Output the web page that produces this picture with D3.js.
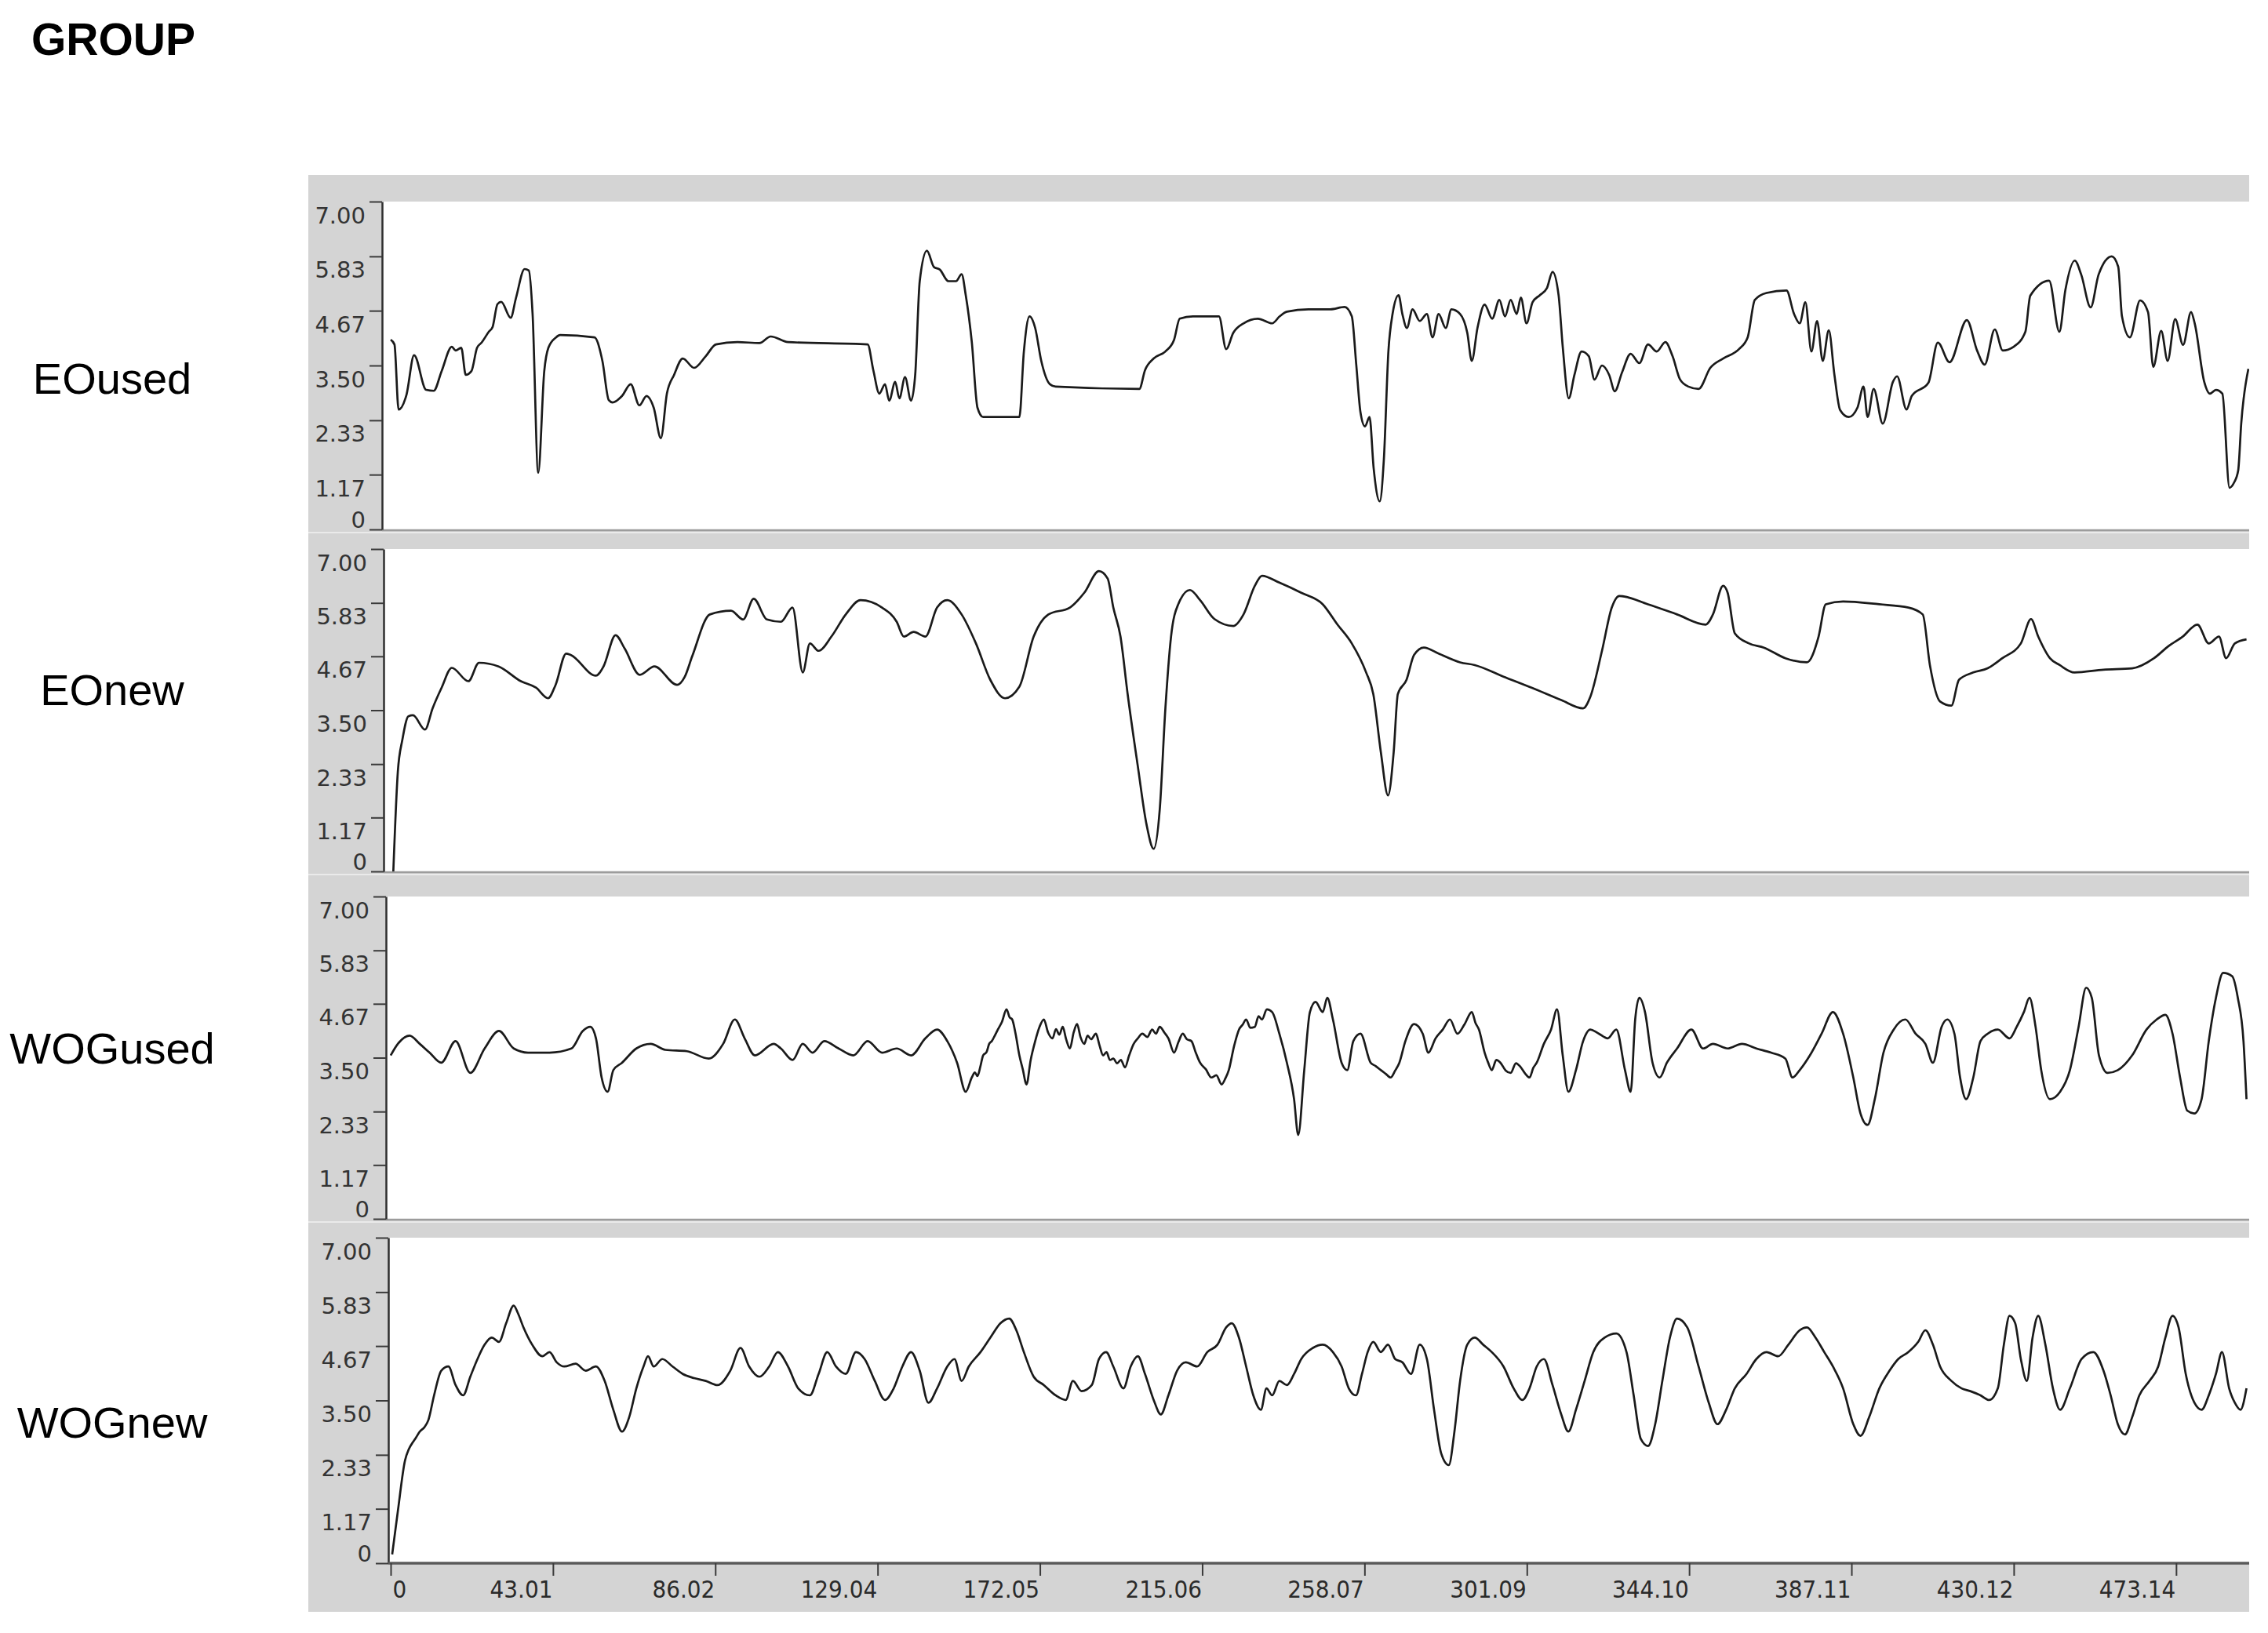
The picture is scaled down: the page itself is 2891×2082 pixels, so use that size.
<!DOCTYPE html>
<html><head><meta charset="utf-8">
<script src="https://cdn.jsdelivr.net/npm/d3@7"></script>
<style>html,body{margin:0;padding:0;background:#fff;} svg{display:block}</style>
</head><body>
<svg id="chart" width="2891" height="2082"></svg>
<script>
const titleText = "GROUP";
const panelNames = ["EOused", "EOnew", "WOGused", "WOGnew"];
const yTickValues = [0, 1.17, 2.33, 3.50, 4.67, 5.83, 7.00];
const yTickLabels = ["0", "1.17", "2.33", "3.50", "4.67", "5.83", "7.00"];
const xTickValues = [0, 43.01, 86.02, 129.04, 172.05, 215.06, 258.07, 301.09, 344.10, 387.11, 430.12, 473.14];
const xTickLabels = ["0", "43.01", "86.02", "129.04", "172.05", "215.06", "258.07", "301.09", "344.10", "387.11", "430.12", "473.14"];
const xDomain = [0, 492.3];
const yDomain = [0, 7];

// series: [time, value]
const EOused = [[0,4.05],[1,3.95],[2.1,2.56],[4.2,2.88],[6.2,3.72],[9.4,2.98],[11.4,2.96],[13.5,3.38],[16.2,3.90],[17.2,3.82],[18.7,3.88],[19.9,3.30],[21.4,3.38],[22.9,3.88],[24.1,3.99],[26.0,4.22],[27.0,4.32],[28.3,4.81],[29.3,4.86],[31.8,4.52],[33.2,4.94],[35.5,5.56],[36.6,5.53],[37.6,4.61],[39.1,1.21],[40.7,3.38],[41.8,3.88],[43.8,4.10],[44.9,4.15],[54.0,4.10],[56.1,3.60],[57.8,2.76],[58.8,2.71],[61.3,2.85],[63.6,3.1],[65.9,2.65],[67.8,2.85],[69.7,2.6],[71.6,1.95],[73.2,2.9],[75.1,3.3],[77.4,3.65],[80.4,3.45],[83.5,3.7],[86.2,3.95],[91.9,4.0],[97.7,3.98],[100.7,4.12],[105.3,4.0],[126.4,3.95],[127.9,3.4],[129.5,2.9],[131,3.1],[132.1,2.75],[133.7,3.15],[134.8,2.8],[136.3,3.25],[137.9,2.75],[139,3.3],[140.2,5.3],[142.1,5.95],[144,5.6],[145.5,5.55],[147.8,5.3],[149.8,5.3],[151.3,5.45],[152.4,5.0],[154,4.0],[155.5,2.6],[157,2.4],[166.6,2.4],[167.8,3.8],[169.3,4.55],[170.8,4.3],[172.4,3.6],[174.7,3.1],[176.2,3.05],[198.4,3.0],[199.9,3.4],[202.2,3.65],[205.3,3.8],[207.6,4.05],[209.1,4.5],[212.6,4.55],[219.5,4.55],[221.4,3.85],[223.3,4.2],[226,4.4],[229.8,4.5],[233.6,4.4],[235.6,4.55],[237.5,4.65],[243.2,4.7],[249,4.7],[252.8,4.75],[254.7,4.55],[255.9,3.5],[257,2.5],[258.2,2.2],[259.4,2.4],[260.5,1.3],[262.1,0.6],[263.2,1.5],[264.4,3.8],[265.5,4.6],[267.1,5.0],[268.1,4.6],[269.3,4.3],[270.8,4.7],[272.7,4.45],[274.6,4.6],[276.1,4.1],[277.7,4.6],[279.6,4.3],[281.1,4.7],[283.4,4.6],[285.3,4.2],[286.5,3.6],[288,4.3],[289.9,4.8],[291.9,4.5],[293.8,4.9],[295.3,4.55],[296.8,4.9],[298.4,4.6],[299.5,4.95],[301,4.4],[302.6,4.85],[304.5,5.0],[306.4,5.15],[307.9,5.5],[309.5,5.0],[310.6,3.9],[312.2,2.8],[313.7,3.3],[315.6,3.8],[317.5,3.7],[319,3.2],[321,3.5],[322.9,3.3],[324.4,2.95],[326.3,3.35],[328.6,3.75],[330.9,3.55],[333.2,3.95],[335.5,3.8],[337.8,4.0],[339.7,3.7],[341.7,3.2],[343.9,3.05],[346.6,3.0],[349.7,3.45],[353.1,3.65],[357.3,3.85],[359.6,4.1],[361.5,4.9],[364.6,5.05],[369.9,5.1],[371.9,4.6],[373.4,4.4],[374.9,4.85],[376.5,3.8],[378,4.45],[379.5,3.6],[381.1,4.25],[382.6,3.3],[384.1,2.55],[386.4,2.4],[388.7,2.6],[390.3,3.05],[391.4,2.4],[393,3.0],[395.4,2.26],[398.1,3.15],[399.2,3.27],[401.7,2.56],[403.1,2.85],[407.5,3.13],[410.0,3.99],[413.1,3.57],[417.7,4.47],[420.4,3.82],[422.4,3.52],[425.1,4.27],[427.2,3.82],[430.1,3.9],[433.2,4.22],[434.5,4.99],[439.5,5.31],[442.2,4.22],[443.8,5.11],[446.3,5.74],[448.0,5.44],[450.5,4.74],[452.6,5.44],[456.1,5.83],[457.8,5.61],[458.8,4.55],[460.9,4.10],[463.6,4.89],[465.7,4.64],[467.1,3.47],[469.2,4.24],[470.9,3.60],[472.9,4.49],[475.0,3.94],[477.1,4.64],[478.1,4.39],[480.6,3.15],[482.1,2.90],[483.7,2.98],[485.4,2.90],[487.3,0.89],[488.5,1.0],[489.6,1.26],[490.4,2.26],[492.3,3.43]];

const EOnew = [[0.7,0.0],[1.9,2.17],[3.1,2.86],[4.7,3.37],[5.9,3.39],[9.1,3.08],[11.1,3.54],[13.5,3.99],[16.2,4.42],[20.6,4.13],[23.4,4.53],[28.6,4.45],[34.5,4.13],[38.5,3.99],[41.7,3.76],[43.7,4.05],[46.5,4.73],[47.7,4.70],[54.4,4.25],[56.4,4.45],[59.6,5.13],[62.0,4.84],[66.0,4.27],[69.9,4.45],[75.9,4.05],[77.9,4.22],[79.9,4.67],[84.6,5.58],[90.2,5.66],[93.4,5.47],[96.2,5.92],[99.7,5.47],[103.4,5.42],[106.5,5.73],[109.2,4.32],[111.1,4.95],[113.4,4.79],[116.8,5.1],[120.6,5.58],[124.5,5.89],[130.2,5.73],[134.1,5.42],[136,5.1],[138.6,5.2],[141.7,5.1],[144.8,5.73],[147.5,5.89],[151.3,5.58],[155.1,4.95],[158.9,4.16],[162.8,3.76],[166.6,4.01],[170.4,5.1],[174.3,5.58],[180,5.73],[183.8,6.05],[187.7,6.52],[190,6.36],[191.5,5.73],[193.4,5.1],[195.3,3.85],[198,2.28],[200.3,1.02],[202.2,0.49],[203.8,1.34],[205.3,3.54],[206.8,5.1],[208.7,5.8],[211.8,6.11],[214.5,5.89],[218.3,5.48],[223.3,5.33],[226,5.58],[229,6.2],[230.9,6.42],[235.5,6.27],[241.3,6.05],[247,5.8],[250.9,5.36],[254.7,4.95],[258.5,4.32],[260.4,3.85],[262.4,2.59],[264.3,1.65],[265.8,2.59],[266.9,3.85],[269.2,4.16],[271.2,4.7],[273.8,4.86],[277.7,4.73],[283.4,4.54],[287.3,4.48],[294.9,4.23],[302.6,3.98],[310.2,3.72],[316,3.54],[317.9,3.79],[321,4.79],[323.6,5.73],[325.6,5.98],[333.2,5.8],[340.9,5.58],[348.5,5.36],[350.4,5.58],[353.1,6.2],[354.3,6.05],[356.2,5.17],[360,4.95],[363.9,4.86],[369.6,4.63],[375.3,4.54],[378.4,5.1],[380.3,5.8],[384.9,5.86],[394.5,5.8],[402.2,5.73],[406,5.58],[407.9,4.48],[410.6,3.69],[413.6,3.6],[415.6,4.16],[419.4,4.32],[423.2,4.41],[427.1,4.63],[432,4.95],[434.7,5.48],[436.6,5.1],[439.7,4.63],[442.3,4.48],[446.2,4.32],[453.9,4.38],[461.5,4.41],[467.3,4.63],[471.1,4.89],[474.9,5.1],[478.8,5.36],[481.8,4.95],[484.5,5.1],[486.4,4.63],[488.7,4.95],[491.8,5.04]];

const WOGused = [[0,3.55],[1.9,3.80],[5.0,3.98],[7.7,3.80],[10.3,3.61],[13.4,3.39],[17.2,3.86],[21.1,3.17],[24.9,3.70],[28.7,4.08],[32.6,3.70],[36.4,3.61],[42.1,3.61],[47.9,3.70],[50.9,4.08],[52.9,4.17],[54.4,3.92],[55.9,3.07],[57.5,2.76],[59.0,3.23],[61.3,3.39],[65.1,3.70],[68.9,3.80],[72.8,3.67],[78.5,3.64],[84.3,3.48],[88.1,3.80],[91.2,4.33],[93.8,3.92],[96.5,3.55],[101.5,3.80],[103.4,3.70],[106.5,3.45],[109.2,3.80],[111.8,3.61],[114.9,3.86],[118.7,3.70],[122.6,3.55],[126.4,3.86],[130.2,3.61],[134.1,3.70],[137.9,3.55],[141.7,3.92],[144.8,4.11],[147.5,3.86],[150.1,3.39],[152.4,2.76],[154.0,3.07],[154.8,3.18],[155.5,3.10],[156.3,3.32],[157.0,3.55],[157.9,3.62],[158.6,3.80],[159.3,3.86],[160.1,3.98],[160.9,4.11],[162.0,4.28],[163.2,4.55],[164.0,4.38],[164.7,4.33],[165.6,4.02],[166.6,3.55],[167.5,3.25],[168.5,2.92],[169.6,3.45],[170.8,3.86],[172.0,4.18],[173.1,4.33],[174.2,4.05],[175.4,3.92],[176.3,4.12],[177.2,4.0],[178.1,4.17],[179.0,3.90],[180.0,3.70],[181.0,4.05],[181.9,4.23],[182.8,3.95],[183.8,3.80],[184.7,3.98],[185.6,3.90],[186.9,4.02],[187.8,3.78],[188.8,3.55],[189.7,3.62],[190.6,3.45],[191.5,3.48],[192.5,3.38],[193.5,3.45],[194.6,3.29],[195.7,3.55],[196.9,3.80],[198.0,3.92],[199.2,4.02],[200.5,3.95],[201.8,4.11],[202.8,4.02],[203.8,4.17],[205.0,4.05],[206.1,3.92],[207.6,3.61],[208.8,3.85],[209.9,4.02],[211.0,3.90],[212.2,3.86],[213.3,3.62],[214.5,3.39],[216.0,3.25],[217.5,3.07],[218.8,3.12],[220.2,2.92],[221.2,3.05],[222.1,3.23],[223.5,3.75],[224.8,4.11],[225.8,4.22],[226.7,4.33],[227.8,4.15],[229.0,4.17],[230.0,4.40],[230.9,4.33],[232.2,4.55],[233.6,4.49],[235.5,4.02],[237.5,3.39],[239.4,2.60],[240.5,1.82],[242.1,3.23],[243.6,4.49],[245.1,4.71],[247.0,4.49],[248.2,4.80],[249.7,4.33],[252.0,3.39],[253.5,3.23],[255.1,3.86],[257.0,4.02],[259.7,3.39],[261.0,3.32],[262.4,3.23],[263.7,3.15],[265.0,3.07],[266.2,3.22],[267.3,3.39],[268.9,3.86],[271.2,4.23],[273.5,4.02],[275.0,3.61],[276.9,3.92],[278.8,4.11],[280.7,4.33],[282.7,4.02],[284.6,4.23],[286.5,4.49],[287.5,4.25],[288.4,4.11],[289.9,3.61],[290.8,3.40],[291.8,3.23],[293.0,3.45],[294.1,3.39],[295.5,3.22],[296.8,3.17],[298.2,3.38],[299.5,3.29],[300.7,3.15],[301.8,3.07],[302.8,3.28],[303.7,3.39],[305.6,3.80],[307.5,4.11],[309.1,4.55],[310.6,3.55],[312.1,2.76],[314.1,3.23],[316.0,3.86],[317.9,4.11],[320.2,4.02],[322.5,3.92],[324.8,4.11],[327.1,3.23],[328.6,2.76],[329.8,4.33],[330.9,4.80],[332.4,4.49],[334.4,3.39],[336.3,3.07],[338.2,3.39],[340.9,3.70],[344.7,4.11],[347.8,3.70],[350.4,3.80],[354.3,3.70],[358.1,3.80],[361.9,3.70],[365.8,3.61],[369.6,3.48],[371.5,3.07],[373.4,3.23],[376.1,3.55],[379.2,4.02],[382.2,4.49],[384.9,4.02],[387.6,3.07],[389.5,2.29],[391.4,2.04],[393.3,2.60],[395.6,3.61],[398.3,4.11],[401.4,4.33],[404.1,4.02],[406.7,3.80],[408.7,3.39],[411.0,4.17],[412.5,4.33],[414.4,4.02],[415.9,3.07],[417.5,2.60],[419.4,3.07],[421.3,3.86],[423.2,4.02],[425.9,4.11],[429.0,3.92],[430.9,4.17],[432.8,4.49],[434.3,4.80],[435.9,4.17],[437.4,3.23],[439.7,2.60],[442.4,2.76],[445.0,3.23],[447.3,4.17],[449.3,5.02],[450.8,4.80],[452.7,3.55],[455.0,3.17],[457.7,3.23],[461.5,3.55],[465.3,4.11],[468.0,4.33],[470.3,4.43],[472.2,4.02],[474.2,3.07],[476.1,2.35],[478.0,2.29],[479.9,2.60],[481.8,3.86],[483.7,4.80],[485.6,5.34],[488.0,5.27],[489.5,4.80],[491.0,3.86],[491.8,2.60]];

const WOGnew = [[0.4,0.19],[1.9,1.12],[3.8,2.21],[4.8,2.45],[5.7,2.58],[6.7,2.70],[7.7,2.83],[8.9,2.92],[10.0,3.08],[11.5,3.61],[13.4,4.14],[15.3,4.23],[17.2,3.83],[19.2,3.61],[21.1,4.01],[23.0,4.39],[24.9,4.70],[26.8,4.85],[28.7,4.76],[30.6,5.16],[32.6,5.54],[33.7,5.38],[35.2,5.07],[37.5,4.70],[40.2,4.45],[42.1,4.54],[44.0,4.32],[46.0,4.23],[49.0,4.29],[51.7,4.14],[54.4,4.23],[56.7,3.92],[59.0,3.30],[61.3,2.83],[63.2,3.14],[65.1,3.76],[67.0,4.23],[68.2,4.45],[69.7,4.23],[72.0,4.39],[74.7,4.23],[77.4,4.07],[80.4,3.98],[83.5,3.92],[86.6,3.83],[90.0,4.14],[92.7,4.63],[95.0,4.23],[97.7,4.01],[100.3,4.23],[102.6,4.54],[105.3,4.23],[108.0,3.76],[111.1,3.61],[113.4,4.07],[115.7,4.54],[118.0,4.23],[120.6,4.07],[123.3,4.54],[125.6,4.39],[128.3,3.92],[131.0,3.51],[133.3,3.76],[135.6,4.23],[137.9,4.54],[140.2,4.14],[142.5,3.45],[144.8,3.76],[147.5,4.23],[149.4,4.39],[151.3,3.92],[153.2,4.23],[156.3,4.54],[158.9,4.85],[161.6,5.16],[163.9,5.26],[165.8,5.01],[167.8,4.54],[170.4,4.01],[173.1,3.83],[176.2,3.61],[178.9,3.51],[180.8,3.92],[183.1,3.70],[185.8,3.83],[187.7,4.39],[189.6,4.54],[191.5,4.23],[194.2,3.76],[196.1,4.23],[198.0,4.45],[199.9,4.07],[202.2,3.51],[204.1,3.20],[206.1,3.61],[208.4,4.14],[210.7,4.32],[213.7,4.23],[216.4,4.54],[219.1,4.70],[221.4,5.07],[222.9,5.16],[224.8,4.85],[226.7,4.23],[228.6,3.61],[230.6,3.30],[232.1,3.76],[233.6,3.61],[235.5,3.92],[237.5,3.83],[239.4,4.07],[241.3,4.39],[244.4,4.63],[247.0,4.70],[249.7,4.54],[252.0,4.23],[253.9,3.76],[255.8,3.61],[257.4,4.07],[258.9,4.54],[260.4,4.76],[262.4,4.54],[264.3,4.70],[266.2,4.39],[268.1,4.32],[270.4,4.07],[272.7,4.70],[274.6,4.39],[276.5,3.30],[278.4,2.36],[280.4,2.11],[281.9,2.83],[283.4,3.92],[285.3,4.70],[287.3,4.85],[289.5,4.70],[291.8,4.54],[294.9,4.23],[297.6,3.76],[299.9,3.51],[301.8,3.76],[303.7,4.23],[305.6,4.39],[307.9,3.83],[310.2,3.20],[312.1,2.83],[314.1,3.30],[316.4,3.92],[318.7,4.54],[321.7,4.85],[324.8,4.94],[327.5,4.54],[329.4,3.61],[331.3,2.67],[333.2,2.52],[335.1,2.99],[337.0,3.92],[339.0,4.85],[340.9,5.26],[343.6,5.07],[346.6,4.23],[349.3,3.45],[351.6,2.99],[353.9,3.30],[356.2,3.76],[359.3,4.07],[361.9,4.39],[364.6,4.54],[367.7,4.45],[370.4,4.70],[373.4,5.01],[375.3,5.07],[377.6,4.85],[379.9,4.54],[382.2,4.23],[384.9,3.76],[387.6,2.99],[389.5,2.74],[391.8,3.14],[394.5,3.76],[397.2,4.14],[399.5,4.39],[402.2,4.54],[404.8,4.76],[406.7,5.01],[408.7,4.70],[410.6,4.23],[413.6,3.92],[416.3,3.76],[418.6,3.70],[421.3,3.61],[423.6,3.51],[425.9,3.76],[427.5,4.70],[429.0,5.32],[430.5,5.16],[432.0,4.39],[433.6,3.92],[435.1,4.85],[436.6,5.32],[438.5,4.70],[440.5,3.76],[442.4,3.30],[445.0,3.76],[448.1,4.39],[451.2,4.54],[453.9,4.14],[455.8,3.61],[457.7,2.99],[459.6,2.77],[461.5,3.14],[463.4,3.61],[466.1,3.92],[468.4,4.23],[470.3,4.85],[472.2,5.32],[473.8,5.07],[475.7,4.07],[478.0,3.45],[479.9,3.30],[481.8,3.61],[483.7,4.07],[485.3,4.54],[487.2,3.76],[488.7,3.45],[490.2,3.30],[491.8,3.76]];

const seriesList = [EOused, EOnew, WOGused, WOGnew];

// ---------- layout ----------
const W = 2891, H = 2082;
const frame = {left: 393, right: 2867, top: 223, bottom: 2055};
const panels = [
  {top: 257, bottom: 675, axisX: 487, labelY: 481},
  {top: 700, bottom: 1111, axisX: 489, labelY: 878},
  {top: 1143, bottom: 1554, axisX: 492, labelY: 1335},
  {top: 1578, bottom: 1993, axisX: 495, labelY: 1812}
];
const plotRight = 2867;
const x = d3.scaleLinear().domain(xDomain).range([498, 2866]);

const svg = d3.select("#chart");
svg.append("rect").attr("width", W).attr("height", H).attr("fill", "#ffffff");

svg.append("text").attr("x", 40).attr("y", 70)
  .attr("font-family", "Liberation Sans, Arial, sans-serif")
  .attr("font-weight", "bold").attr("font-size", 57).attr("fill", "#000")
  .text(titleText);

svg.append("rect")
  .attr("x", frame.left).attr("y", frame.top)
  .attr("width", frame.right - frame.left).attr("height", frame.bottom - frame.top)
  .attr("fill", "#d4d4d4");

const defs = svg.append("defs");

panels.forEach((p, i) => {
  const y = d3.scaleLinear().domain(yDomain).range([p.bottom, p.top]);
  const g = svg.append("g");

  g.append("rect").attr("x", p.axisX).attr("y", p.top)
    .attr("width", plotRight - p.axisX).attr("height", p.bottom - p.top)
    .attr("fill", "#ffffff");

  if (i < panels.length - 1) {
    g.append("line").attr("x1", p.axisX).attr("x2", plotRight)
      .attr("y1", p.bottom + 1).attr("y2", p.bottom + 1)
      .attr("stroke", "#9c9c9c").attr("stroke-width", 2.5);
    g.append("line").attr("x1", frame.left).attr("x2", plotRight)
      .attr("y1", p.bottom + 4).attr("y2", p.bottom + 4)
      .attr("stroke", "#f2f2f2").attr("stroke-width", 1.5);
  }

  defs.append("clipPath").attr("id", "clip" + i)
    .append("rect").attr("x", p.axisX).attr("y", p.top - 2)
    .attr("width", plotRight - p.axisX).attr("height", p.bottom - p.top + 4);

  const line = d3.line().curve(d3.curveMonotoneX).x(d => x(d[0])).y(d => y(d[1]));
  g.append("path").datum(seriesList[i])
    .attr("clip-path", "url(#clip" + i + ")")
    .attr("d", line)
    .attr("fill", "none").attr("stroke", "#1a1a1a")
    .attr("stroke-width", 2.7).attr("stroke-linejoin", "round");

  // y axis
  const yAxis = d3.axisLeft(y).tickValues(yTickValues)
    .tickFormat((d, k) => yTickLabels[k]).tickSize(16).tickSizeOuter(0);
  const ag = g.append("g").attr("transform", `translate(${p.axisX},0)`).call(yAxis);
  ag.select(".domain").attr("stroke", "#2e2e2e").attr("stroke-width", 2.5);
  ag.selectAll(".tick line").attr("stroke", "#3a3a3a").attr("stroke-width", 2);
  ag.selectAll(".tick text")
    .attr("font-family", "DejaVu Sans, Verdana, sans-serif")
    .attr("font-size", 29).attr("fill", "#333")
    .attr("x", -21).attr("dy", 0)
    .attr("y", d => d === 0 ? -3 : 27)
    .attr("text-anchor", "end");

  // row label
  svg.append("text").attr("x", 143).attr("y", p.labelY + 21)
    .attr("text-anchor", "middle")
    .attr("font-family", "Liberation Sans, Arial, sans-serif")
    .attr("font-size", 56).attr("fill", "#000")
    .text(panelNames[i]);
});

// x axis at bottom panel
const last = panels[panels.length - 1];
const xAxis = d3.axisBottom(x).tickValues(xTickValues)
  .tickFormat((d, k) => xTickLabels[k]).tickSize(16).tickSizeOuter(0);
const xg = svg.append("g").attr("transform", `translate(0,${last.bottom})`).call(xAxis);
xg.select(".domain").attr("stroke", "#5a5a5a").attr("stroke-width", 3.5)
  .attr("d", `M${last.axisX},0H${plotRight}`);
xg.selectAll(".tick line").attr("stroke", "#3a3a3a").attr("stroke-width", 2);
xg.selectAll(".tick text")
  .attr("font-family", "DejaVu Sans Condensed, DejaVu Sans, sans-serif")
  .attr("font-size", 31).attr("fill", "#2a2a2a")
  .attr("dy", 0).attr("y", 44)
  .attr("x", d => d === 0 ? 2 : -1)
  .attr("text-anchor", d => d === 0 ? "start" : "end");
</script>
</body></html>
